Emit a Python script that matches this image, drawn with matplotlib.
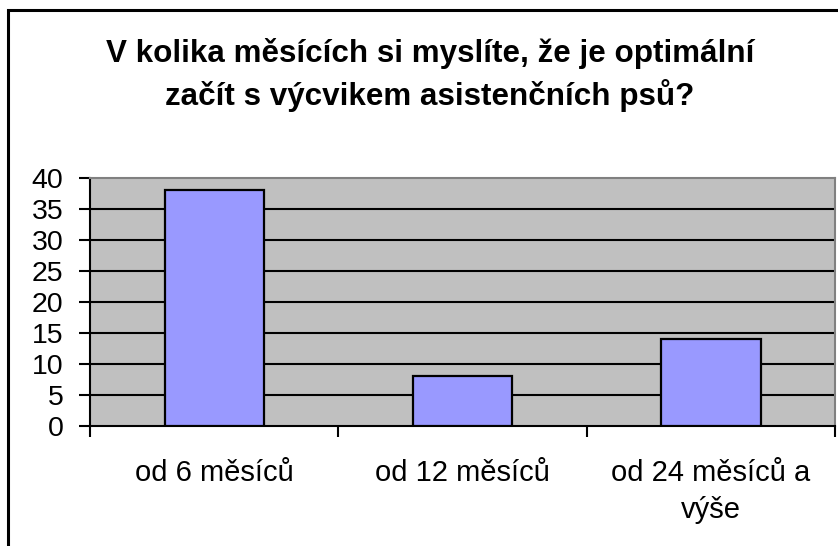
import matplotlib.pyplot as plt
import matplotlib.patches as patches

plt.rcParams['font.family'] = ['Liberation Sans', 'DejaVu Sans']

categories = ['od 6 měsíců', 'od 12 měsíců', 'od 24 měsíců a\nvýše']
values = [38, 8, 14]
title = 'V kolika měsících si myslíte, že je optimální\nzačít s výcvikem asistenčních psů?'

fig = plt.figure(figsize=(8.38, 5.46), dpi=100)
ax = fig.add_axes([90/838, 120/546, 745/838, 248/546])

# outer chart border
fig.patches.append(patches.Rectangle((8/838, -0.05), 1.0, 1 - 10/546 + 0.05,
                                     transform=fig.transFigure, fill=False,
                                     edgecolor='black', linewidth=2.2))

ax.set_facecolor('#c0c0c0')
x = list(range(len(categories)))
ax.bar(x, values, width=0.4, color='#9999ff', edgecolor='black', linewidth=1.6, zorder=3)

ax.set_xlim(-0.5, 2.5)
ax.set_ylim(0, 40)
ax.set_yticks(range(0, 41, 5))
for yv in range(5, 40, 5):
    ax.axhline(yv, color='black', linewidth=1.5, zorder=1)

ax.set_xticks([-0.5, 0.5, 1.5, 2.5])
ax.set_xticklabels([])
ax.set_xticks(x, minor=True)
ax.set_xticklabels(categories, minor=True, fontsize=21, linespacing=1.4)
ax.tick_params(axis='x', which='minor', length=0, pad=24)
ax.tick_params(axis='x', which='major', length=8, width=1.5, direction='out')
ax.tick_params(axis='y', length=8, width=1.5, direction='out', labelsize=20.5, pad=11)

for s in ['top', 'right']:
    ax.spines[s].set_color('#808080')
    ax.spines[s].set_linewidth(1.5)
for s in ['left', 'bottom']:
    ax.spines[s].set_color('black')
    ax.spines[s].set_linewidth(1.5)

fig.text(0.513, 0.863, title, ha='center', va='center', fontsize=22.6,
         fontweight='bold', linespacing=1.38)

fig.savefig('out.png', dpi=100)
